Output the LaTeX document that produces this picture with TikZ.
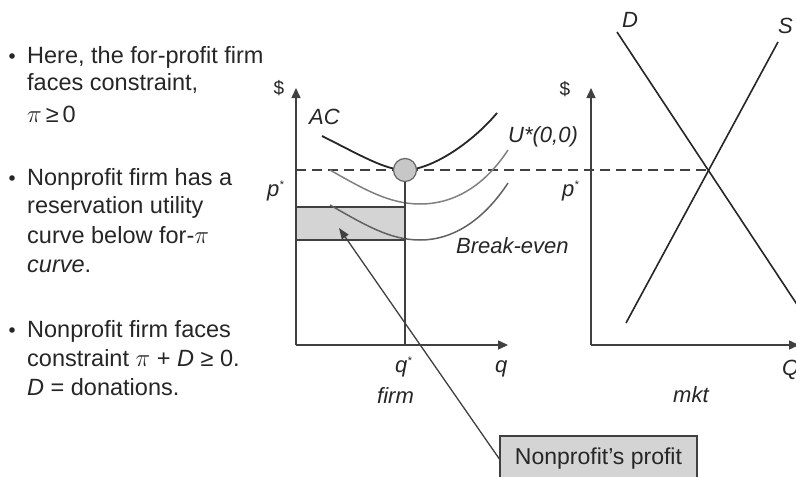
\documentclass[tikz,border=0pt]{standalone}
\usepackage{fontspec}
\setmainfont{Liberation Sans}
\usetikzlibrary{arrows.meta}
\definecolor{axisgray}{gray}{0.25}
\definecolor{txtgray}{gray}{0.15}
\definecolor{ucol}{gray}{0.5}
\definecolor{becol}{gray}{0.38}
\definecolor{fillgray}{gray}{0.83}
\begin{document}
\begin{tikzpicture}[x=1pt,y=-1pt,
  txt/.style={inner sep=0pt,anchor=base west,text=txtgray,font=\fontsize{23.5}{28}\selectfont},
  lbl/.style={inner sep=0pt,anchor=base west,text=txtgray,font=\fontsize{22}{26}\selectfont\itshape},
  dollar/.style={inner sep=0pt,text=txtgray,font=\fontsize{19}{22}\selectfont},
  axis/.style={draw=axisgray,line width=1.5pt,-{Triangle[length=10pt,width=9pt]}},
  dashline/.style={draw=axisgray,line width=1.4pt,dash pattern=on 10pt off 6pt},
  accurve/.style={draw=black!85,line width=1.8pt},
  ucurve/.style={draw=ucol,line width=1.5pt},
  becurve/.style={draw=becol,line width=1.5pt},
  mktline/.style={draw=black!85,line width=1.6pt},
  bul/.style={fill=txtgray},
  pointer/.style={draw=axisgray,line width=1.3pt,-{Triangle[length=11pt,width=8pt]}},
  profitbox/.style={draw=axisgray,line width=1.2pt,fill=fillgray,inner sep=0pt,
     minimum width=197pt,minimum height=46pt,text=txtgray,font=\fontsize{23}{28}\selectfont}
]
\useasboundingbox (0,0) rectangle (796,477);
\fill[white] (0,0) rectangle (796,477);

% ---- left text ----
\fill[bul] (12,56) circle (2.8);
\node[txt] (t11) at (27,63) {Here, the for-profit firm};
\node[txt] (t12) at (27,90) {faces constraint,};
\node[txt] (t13) at (27,122) {$\pi$\,≥\,0};

\fill[bul] (12,178) circle (2.8);
\node[txt] (t21) at (27,185) {Nonprofit firm has a};
\node[txt] (t22) at (27,213) {reservation utility};
\node[txt] (t23) at (27,243) {curve below for-$\pi$};
\node[txt] (t24) at (27,272) {\itshape curve\upshape.};

\fill[bul] (12,330) circle (2.8);
\node[txt] (t31) at (27,337) {Nonprofit firm faces};
\node[txt] (t32) at (27,366) {constraint $\pi$ + \textit{D} ≥ 0.};
\node[txt] (t33) at (27,395) {\textit{D} = donations.};

% ---- firm graph ----
\coordinate (O1) at (296,345);
\coordinate (Y1) at (296,88);
\coordinate (X1) at (508,345);
\coordinate (pstar) at (296,170);
\coordinate (E) at (708,170);
\coordinate (qstarbase) at (405,345);

\fill[fillgray] (296,207) rectangle (405,240);
\draw[draw=axisgray,line width=1.3pt] (296,207) -- (405,207);
\draw[draw=axisgray,line width=1.3pt] (296,240) -- (405,240);

\draw[dashline] (pstar) -- (E);

\draw[accurve] (322,136) .. controls (360,155) and (385,170) .. (405,170)
  .. controls (430,170) and (470,145) .. (497,113);
\draw[ucurve] (330,170) .. controls (365,190) and (390,204) .. (420,204)
  .. controls (455,204) and (485,185) .. (508,150);
\draw[becurve] (330,205) .. controls (365,225) and (390,240) .. (420,240)
  .. controls (455,240) and (485,218) .. (508,183);

\node[circle,draw=black!60,fill=black!22,line width=1.2pt,minimum size=23pt,inner sep=0pt] (tan) at (405,170) {};
\draw[draw=axisgray,line width=1.3pt] (tan.south) -- (qstarbase);

\draw[axis] (O1) -- (Y1);
\draw[axis] (O1) -- (X1);

\node[dollar] (d1) at (279,88) {\$};
\node[lbl] (ac) at (309,124) {AC};
\node[lbl] (p1) at (267,196) {p\textsuperscript{\fontsize{11}{11}\selectfont *}};
\node[lbl] (ustar) at (508,142) {U*(0,0)};
\node[lbl] (be) at (456,253) {Break-even};
\node[lbl] (qs) at (395,372) {q\textsuperscript{\fontsize{11}{11}\selectfont *}};
\node[lbl] (q) at (495,372) {q};
\node[lbl] (firm) at (377,403) {firm};

% ---- market graph ----
\coordinate (O2) at (591,345);
\coordinate (Y2) at (591,88);
\coordinate (X2) at (799,345);
\draw[axis] (O2) -- (Y2);
\draw[axis] (O2) -- (X2);

\coordinate (Dtop) at (617,32);
\coordinate (Dbot) at (800,309);
\coordinate (Stop) at (778,42);
\coordinate (Sbot) at (626,323);
\draw[mktline] (Dtop) -- (Dbot);
\draw[mktline] (Sbot) -- (Stop);

\node[dollar] (d2) at (565,89) {\$};
\node[lbl] (p2) at (562,196) {p\textsuperscript{\fontsize{11}{11}\selectfont *}};
\node[lbl] (D) at (622,27) {D};
\node[lbl] (S) at (778,33) {S};
\node[lbl] (Q) at (782,375) {Q};
\node[lbl] (mkt) at (673,402) {mkt};

% ---- callout ----
\coordinate (ptip) at (339,228);
\node[profitbox] (box) at (598.5,459) {Nonprofit's profit};
\draw[pointer] (box.west) -- (ptip);
\end{tikzpicture}
\end{document}
